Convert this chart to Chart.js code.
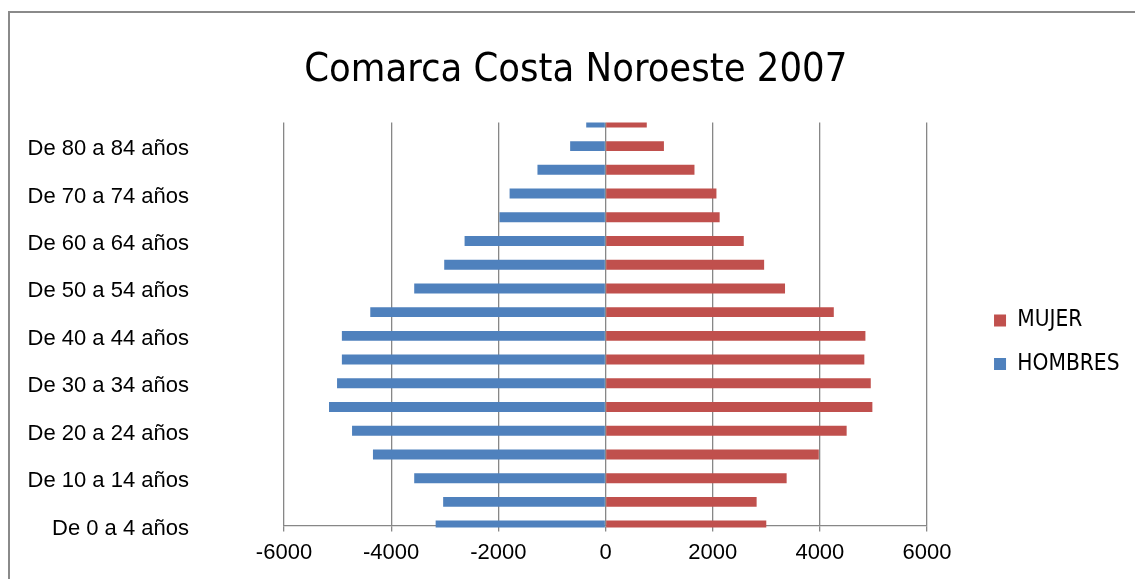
<!DOCTYPE html>
<html>
<head>
<meta charset="utf-8">
<script src="https://cdn.jsdelivr.net/npm/chart.js@4"></script>
<style>
  html, body { margin: 0; padding: 0; background: #fff; overflow: hidden; }
  #frame {
    position: absolute; left: 8px; top: 11px;
    width: 1300px; height: 700px;
    border: 2px solid #8a8a8a;
  }
  #wrap { position: absolute; left: 0; top: 0; width: 1135px; height: 579px; }
</style>
</head>
<body>
<div id="frame"></div>
<div id="wrap"><canvas id="pyramid"></canvas></div>
<script>
// age groups, bottom to top
const ageGroups = [
  'De 0 a 4 años', 'De 5 a 9 años', 'De 10 a 14 años', 'De 15 a 19 años',
  'De 20 a 24 años', 'De 25 a 29 años', 'De 30 a 34 años', 'De 35 a 39 años',
  'De 40 a 44 años', 'De 45 a 49 años', 'De 50 a 54 años', 'De 55 a 59 años',
  'De 60 a 64 años', 'De 65 a 69 años', 'De 70 a 74 años', 'De 75 a 79 años',
  'De 80 a 84 años', 'De 85 y más años'
];

// men are plotted as negative values
const hombres = [
  -3170, -3030, -3570, -4340, -4730, -5160, -5010, -4920, -4920,
  -4390, -3570, -3010, -2630, -1980, -1790, -1270, -660, -360
];

const mujer = [
  3000, 2820, 3380, 3980, 4500, 4980, 4950, 4830, 4850,
  4260, 3350, 2960, 2580, 2130, 2070, 1660, 1090, 770
];

const xTicks = [-6000, -4000, -2000, 0, 2000, 4000, 6000];

const narrow = "'DejaVu Sans Condensed', sans-serif";
const regular = "'Liberation Sans', Arial, sans-serif";
const gridGrey = '#878787';

const ctx = document.getElementById('pyramid');

new Chart(ctx, {
  type: 'bar',
  data: {
    labels: ageGroups,
    datasets: [
      {
        label: 'HOMBRES',
        data: hombres,
        backgroundColor: '#4F81BD',
        clip: {left: false, right: false, top: 0, bottom: 2}
      },
      {
        label: 'MUJER',
        data: mujer,
        backgroundColor: '#C0504D',
        clip: {left: false, right: false, top: 0, bottom: 2}
      }
    ]
  },
  options: {
    indexAxis: 'y',
    responsive: true,
    maintainAspectRatio: false,
    animation: false,
    categoryPercentage: 1,
    barPercentage: 0.42,
    layout: {
      padding: {left: 22, right: 5.5, top: 0, bottom: 5}
    },
    plugins: {
      title: {
        display: true,
        text: 'Comarca Costa Noroeste 2007',
        color: '#000',
        font: {family: narrow, size: 39.5, weight: 'normal'},
        padding: {top: 47, bottom: 28}
      },
      legend: {
        position: 'right',
        fullSize: false,
        reverse: true,
        // empty title only pushes the two entries a bit lower
        title: {display: true, text: '', padding: {top: 22, bottom: 0}},
        labels: {
          color: '#000',
          font: {family: narrow, size: 22.5},
          boxWidth: 12,
          boxHeight: 12,
          padding: 21
        }
      },
      tooltip: {enabled: false}
    },
    scales: {
      x: {
        stacked: true,
        min: -6000,
        max: 6000,
        afterBuildTicks: (scale) => {
          scale.ticks = xTicks.map(v => ({value: v}));
        },
        grid: {
          color: gridGrey,
          lineWidth: 1.3,
          tickLength: 6
        },
        border: {color: gridGrey, width: 1.3},
        ticks: {
          color: '#000',
          font: {family: regular, size: 22},
          padding: 8,
          callback: (v) => String(v)
        }
      },
      y: {
        stacked: true,
        reverse: true,
        offset: false,
        afterFit: (scale) => {
          scale.width = 262;
        },
        grid: {
          drawOnChartArea: false,
          color: 'rgba(0,0,0,0)',
          tickLength: 90
        },
        border: {display: false},
        ticks: {
          color: '#000',
          font: {family: regular, size: 22},
          padding: 5,
          labelOffset: 3,
          autoSkip: false,
          callback: (value, index) => index % 2 === 0 ? ageGroups[index] : ''
        }
      },
      // empty spacer between the plot and the legend
      gap: {
        type: 'category',
        axis: 'y',
        position: 'right',
        grid: {display: false},
        border: {display: false},
        ticks: {display: false},
        afterFit: (scale) => {
          scale.width = 46;
        }
      }
    }
  }
});
</script>
</body>
</html>
